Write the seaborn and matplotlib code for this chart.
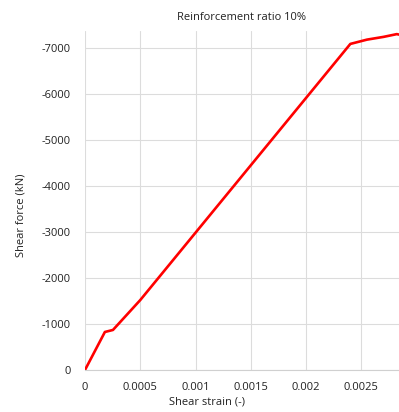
import matplotlib
matplotlib.use("Agg")
import matplotlib.pyplot as plt
import seaborn as sns
import pandas as pd

# Shear response of the section (strain vs. force)
shear_strain = [0.0, 0.00018, 0.000253, 0.0005, 0.00240, 0.00255, 0.00270, 0.00282, 0.00290]
shear_force = [0.0, -826.0, -870.0, -1520.0, -7087.0, -7180.0, -7240.0, -7300.0, -7260.0]

x_ticks = [0, 0.0005, 0.001, 0.0015, 0.002, 0.0025]
x_tick_labels = ["0", "0.0005", "0.001", "0.0015", "0.002", "0.0025"]
y_ticks = [0, -1000, -2000, -3000, -4000, -5000, -6000, -7000]
y_tick_labels = ["0", "-1000", "-2000", "-3000", "-4000", "-5000", "-6000", "-7000"]

sns.set_theme(style="whitegrid")
plt.rcParams["font.family"] = ["Open Sans", "DejaVu Sans"]
plt.rcParams["axes.unicode_minus"] = False

df = pd.DataFrame({"strain": shear_strain, "force": shear_force})

fig = plt.figure(figsize=(3.99, 4.12), dpi=100)
ax = fig.add_axes([0.213, 0.102, 0.787, 0.823])

sns.lineplot(data=df, x="strain", y="force", ax=ax, color="#ff0000",
             linewidth=1.9, sort=False, estimator=None)

ax.set_xlim(0, 0.00284)
ax.set_ylim(0, -7370)
ax.set_xticks(x_ticks)
ax.set_xticklabels(x_tick_labels)
ax.set_yticks(y_ticks)
ax.set_yticklabels(y_tick_labels)

ax.grid(True, color="#dcdcdc", linewidth=0.8)
for side in ["top", "right", "left"]:
    ax.spines[side].set_visible(False)
ax.spines["bottom"].set_color("#d0d0d0")
ax.spines["bottom"].set_linewidth(0.8)
ax.tick_params(axis="both", length=0, labelsize=8, colors="#222222")
ax.tick_params(axis="y", pad=10)
ax.tick_params(axis="x", pad=9)

ax.set_title("Reinforcement ratio 10%", fontsize=8, color="#222222", pad=8)
ax.set_xlabel("Shear strain (-)", fontsize=8, color="#222222", va="center")
ax.set_ylabel("Shear force (kN)", fontsize=8, color="#222222", va="center")
ax.xaxis.set_label_coords(0.389, -0.094)
ax.yaxis.set_label_coords(-0.204, 0.457)

fig.savefig("out.png", dpi=100)
